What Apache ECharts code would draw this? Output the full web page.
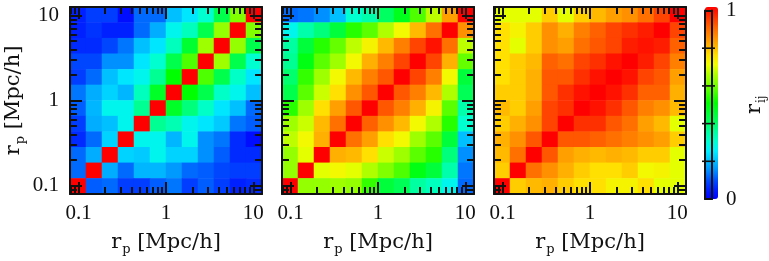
<!DOCTYPE html>
<html>
<head>
<meta charset="utf-8">
<style>html,body{margin:0;padding:0;background:#fff;}#chart{width:769px;height:261px;}</style>
<script src="https://cdn.jsdelivr.net/npm/echarts@6/dist/echarts.min.js"></script>
</head>
<body>
<div id="chart"></div>
<script>
// ---- data ----
// bin centres of r_p [Mpc/h] (12 logarithmic bins)
const rpBins = [0.098, 0.150, 0.229, 0.350, 0.535, 0.818, 1.25, 1.91, 2.92, 4.46, 6.82, 10.4];
// correlation matrices r_ij, rows listed from top (largest r_p) to bottom (smallest r_p)
const panelA = [
  [0.05,0.08,0.08,0.02,0.12,0.12,0.20,0.24,0.30,0.42,0.60,1.00],
  [0.05,0.07,0.05,0.05,0.12,0.18,0.27,0.32,0.42,0.62,1.00,0.60],
  [0.06,0.06,0.09,0.13,0.20,0.24,0.32,0.45,0.63,1.00,0.62,0.42],
  [0.09,0.09,0.15,0.15,0.24,0.30,0.42,0.56,1.00,0.63,0.42,0.30],
  [0.08,0.12,0.20,0.24,0.27,0.36,0.50,1.00,0.56,0.42,0.31,0.24],
  [0.13,0.18,0.22,0.19,0.32,0.46,1.00,0.50,0.42,0.31,0.27,0.20],
  [0.11,0.19,0.27,0.27,0.36,1.00,0.46,0.38,0.31,0.24,0.20,0.12],
  [0.08,0.18,0.20,0.27,1.00,0.36,0.33,0.27,0.24,0.21,0.13,0.11],
  [0.06,0.12,0.22,1.00,0.27,0.27,0.19,0.27,0.15,0.13,0.06,0.02],
  [0.12,0.18,1.00,0.22,0.21,0.27,0.22,0.22,0.15,0.11,0.06,0.06],
  [0.12,1.00,0.18,0.12,0.19,0.19,0.16,0.12,0.11,0.09,0.08,0.08],
  [1.00,0.11,0.12,0.08,0.08,0.11,0.13,0.08,0.11,0.08,0.05,0.06]
];
const panelB = [
  [0.12,0.13,0.15,0.20,0.30,0.34,0.40,0.47,0.56,0.66,0.82,1.00],
  [0.27,0.34,0.38,0.44,0.53,0.57,0.65,0.71,0.79,0.88,1.00,0.84],
  [0.35,0.44,0.53,0.58,0.66,0.72,0.79,0.86,0.93,0.98,0.88,0.66],
  [0.36,0.48,0.57,0.63,0.71,0.80,0.86,0.93,1.00,0.93,0.80,0.58],
  [0.39,0.54,0.63,0.71,0.79,0.86,0.91,1.00,0.93,0.86,0.71,0.44],
  [0.42,0.57,0.67,0.75,0.84,0.91,1.00,0.91,0.86,0.79,0.65,0.41],
  [0.53,0.63,0.75,0.82,0.91,1.00,0.91,0.86,0.80,0.72,0.57,0.34],
  [0.63,0.67,0.79,0.88,1.00,0.90,0.84,0.79,0.71,0.65,0.53,0.30],
  [0.66,0.71,0.80,1.00,0.88,0.82,0.75,0.71,0.63,0.57,0.44,0.20],
  [0.62,0.69,1.00,0.80,0.79,0.75,0.67,0.63,0.57,0.53,0.38,0.15],
  [0.62,1.00,0.69,0.71,0.69,0.65,0.60,0.56,0.48,0.44,0.34,0.13],
  [1.00,0.62,0.62,0.63,0.62,0.54,0.44,0.41,0.35,0.32,0.27,0.12]
];
const panelC = [
  [0.69,0.69,0.69,0.77,0.69,0.77,0.79,0.82,0.84,0.88,0.93,1.00],
  [0.75,0.72,0.77,0.84,0.80,0.86,0.90,0.93,0.95,0.97,1.00,0.93],
  [0.75,0.69,0.77,0.84,0.82,0.88,0.91,0.93,0.97,0.98,0.97,0.90],
  [0.75,0.77,0.79,0.90,0.88,0.93,0.95,0.98,1.00,0.97,0.93,0.86],
  [0.75,0.77,0.80,0.91,0.91,0.95,0.98,1.00,0.98,0.93,0.91,0.82],
  [0.77,0.77,0.80,0.91,0.95,0.98,1.00,0.98,0.95,0.90,0.90,0.80],
  [0.79,0.77,0.82,0.93,0.95,1.00,0.98,0.95,0.91,0.86,0.84,0.79],
  [0.77,0.80,0.84,0.93,1.00,0.95,0.95,0.91,0.88,0.82,0.79,0.69],
  [0.80,0.84,0.91,1.00,0.91,0.91,0.90,0.88,0.86,0.84,0.82,0.77],
  [0.79,0.88,1.00,0.91,0.82,0.80,0.79,0.80,0.79,0.77,0.77,0.69],
  [0.77,1.00,0.88,0.84,0.80,0.77,0.75,0.75,0.77,0.71,0.72,0.69],
  [1.00,0.77,0.79,0.80,0.77,0.75,0.75,0.72,0.72,0.75,0.69,0.69]
];
// axis ticks
const tickValues = [0.1, 1, 10];
const tickLabels = ['0.1', '1', '10'];
const minorTickValues = [0.08, 0.09, 0.2, 0.3, 0.4, 0.5, 0.6, 0.7, 0.8, 0.9, 2, 3, 4, 5, 6, 7, 8, 9];
const cbarTickValues = [0, 1];
const cbarTickLabels = ['0', '1'];
const cbarDividerValues = [0.2, 0.4, 0.6, 0.8];

// ---- layout / style ----
const AX_MIN = Math.pow(10, -1.1), AX_MAX = Math.pow(10, 1.1);
const LINE = '#111';
const LABEL_FONT = 'Liberation Serif';
const NAME_FONT = 'DejaVu Serif';
const panelLefts = [70, 282, 494];
const TOP = 7, SIZE = 192, CB_W = 13;
const cmap = ['#0000ff','#0020ff','#0050ff','#0090ff','#00c0ff','#00f0ff','#00ffd0','#00ffa0','#00ff60','#00ff30',
  '#00ff00','#40ff00','#80ff00','#b0ff00','#f0ff00','#ffe000','#ffb000','#ff8800','#ff6000','#ff3000','#ff0000'];

function fmtTick(v) {
  for (let k = 0; k < tickValues.length; k++) {
    if (Math.abs(Math.log10(v / tickValues[k])) < 1e-6) return tickLabels[k];
  }
  return '';
}
const nameRich = {
  r: { fontFamily: NAME_FONT, fontSize: 21, color: LINE },
  s: { fontFamily: NAME_FONT, fontSize: 13, color: LINE, padding: [14, 0, 0, 1] }
};
const axisName = '{r|r}{s|p}  {r|[Mpc/h]}';

function logAxis(grid, pos, major, extra) {
  return Object.assign({
    type: 'log', logBase: 10, gridIndex: grid, position: pos, min: AX_MIN, max: AX_MAX, z: 6,
    axisLine: { show: major, onZero: false, lineStyle: { color: LINE, width: 2 } },
    axisTick: { show: true, inside: true, length: major ? 12 : 7, lineStyle: { color: LINE, width: 2 },
      customValues: major ? tickValues : minorTickValues },
    axisLabel: { show: false },
    splitLine: { show: false }, minorTick: { show: false }, minorSplitLine: { show: false }
  }, extra || {});
}
const labelStyle = (margin) => ({ show: true, customValues: tickValues, formatter: fmtTick, margin: margin,
  color: LINE, fontFamily: LABEL_FONT, fontSize: 21 });

const grids = [], xAxes = [], yAxes = [], series = [];
const panels = [panelA, panelB, panelC];
panels.forEach((mat, g) => {
  grids.push({ left: panelLefts[g], top: TOP, width: SIZE, height: SIZE, containLabel: false });
  const base = xAxes.length;
  xAxes.push({ type: 'category', gridIndex: g, data: rpBins, show: false });
  yAxes.push({ type: 'category', gridIndex: g, data: rpBins, show: false });
  xAxes.push(logAxis(g, 'bottom', true, {
    axisLabel: labelStyle(9),
    name: axisName, nameLocation: 'middle', nameGap: 35, nameTextStyle: { rich: nameRich }
  }));
  xAxes.push(logAxis(g, 'bottom', false));
  xAxes.push(logAxis(g, 'top', true));
  xAxes.push(logAxis(g, 'top', false));
  yAxes.push(logAxis(g, 'left', true, g === 0 ? {
    axisLabel: labelStyle(11),
    name: axisName, nameLocation: 'middle', nameGap: 43, nameRotate: 90, nameTextStyle: { rich: nameRich }
  } : {}));
  yAxes.push(logAxis(g, 'left', false));
  yAxes.push(logAxis(g, 'right', true));
  yAxes.push(logAxis(g, 'right', false));
  const data = [];
  const n = mat.length;
  for (let row = 0; row < n; row++) {
    for (let col = 0; col < n; col++) {
      data.push([col, n - 1 - row, mat[row][col]]);
    }
  }
  series.push({ type: 'heatmap', xAxisIndex: base, yAxisIndex: base, data: data,
    itemStyle: { borderWidth: 0 }, emphasis: { disabled: true }, z: 2 });
});

// colour bar frame (drawn on a layer above the visualMap bar)
grids.push({ left: 705, top: TOP, width: CB_W, height: SIZE });
const cbX = xAxes.length, cbY = yAxes.length;
const cbLine = { show: true, onZero: false, lineStyle: { color: LINE, width: 2 } };
xAxes.push({ type: 'value', gridIndex: 3, min: 0, max: 1, position: 'bottom', zlevel: 1, z: 10, axisLine: cbLine,
  axisTick: { show: false }, axisLabel: { show: false }, splitLine: { show: false } });
xAxes.push({ type: 'value', gridIndex: 3, min: 0, max: 1, position: 'top', zlevel: 1, z: 10, axisLine: cbLine,
  axisTick: { show: false }, axisLabel: { show: false }, splitLine: { show: false } });
yAxes.push({ type: 'value', gridIndex: 3, min: 0, max: 1, position: 'right', zlevel: 1, z: 10,
  axisLine: cbLine, axisTick: { show: false },
  axisLabel: { show: true, customValues: cbarTickValues, margin: 14, color: LINE, fontFamily: LABEL_FONT, fontSize: 21,
    formatter: v => cbarTickLabels[cbarTickValues.indexOf(v)] },
  splitLine: { show: false },
  name: '{r|r}{s|ij}', nameLocation: 'middle', nameRotate: 90, nameGap: 30,
  nameTextStyle: { rich: { r: { fontFamily: NAME_FONT, fontSize: 21, color: LINE },
    s: { fontFamily: NAME_FONT, fontSize: 12, color: LINE, padding: [14, 0, 0, 1] } } } });
yAxes.push({ type: 'value', gridIndex: 3, min: 0, max: 1, position: 'left', zlevel: 1, z: 10,
  axisLine: cbLine, axisTick: { show: false }, axisLabel: { show: false }, splitLine: { show: false } });
// dividers of the colour bar at 0.2, 0.4, 0.6, 0.8
series.push({ type: 'scatter', xAxisIndex: cbX, yAxisIndex: cbY, zlevel: 1, z: 10, silent: true,
  data: cbarDividerValues.map(v => [0.5, v]),
  symbol: 'rect', symbolSize: [CB_W, 1.6], itemStyle: { color: LINE, opacity: 1 },
  emphasis: { disabled: true }, label: { show: false } });

const chart = echarts.init(document.getElementById('chart'), null, { renderer: 'canvas' });
chart.setOption({
  animation: false,
  backgroundColor: '#fff',
  grid: grids,
  xAxis: xAxes,
  yAxis: yAxes,
  visualMap: {
    type: 'continuous', min: 0, max: 1, calculable: false, show: true, seriesIndex: [0, 1, 2],
    left: 705, top: TOP, itemWidth: CB_W, itemHeight: SIZE, padding: 0, hoverLink: false,
    inRange: { color: cmap }, z: 0, zlevel: -1
  },
  series: series
});
</script>
</body>
</html>
